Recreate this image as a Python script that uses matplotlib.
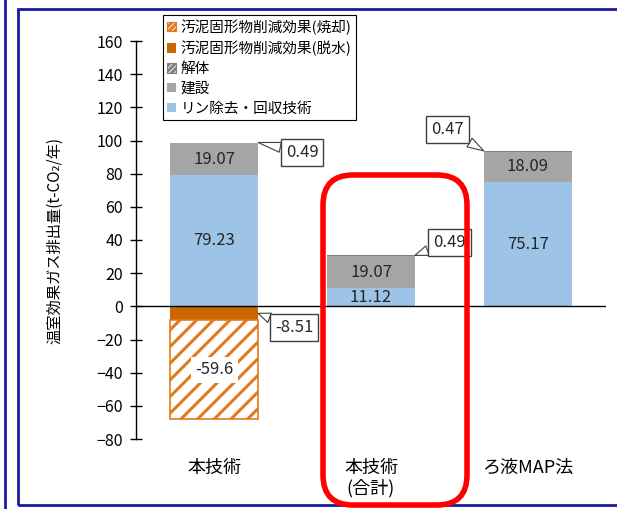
import matplotlib
matplotlib.use("Agg")
import matplotlib.pyplot as plt
import numpy as np
from matplotlib.patches import Patch, FancyBboxPatch, Rectangle
from matplotlib.lines import Line2D

plt.rcParams['font.family'] = ['Noto Sans CJK JP', 'DejaVu Sans']
plt.rcParams['hatch.linewidth'] = 2.2

# データ
categories = ['本技術', '本技術\n(合計)', 'ろ液MAP法']
rin = [79.23, 11.12, 75.17]        # リン除去・回収技術
kensetsu = [19.07, 19.07, 18.09]   # 建設
kaitai = [0.49, 0.49, 0.47]        # 解体
dassui = [-8.51, 0, 0]             # 汚泥固形物削減効果(脱水)
shokyaku = [-59.6, 0, 0]           # 汚泥固形物削減効果(焼却)

c_blue = '#9DC3E6'
c_gray = '#A5A5A5'
c_dgray = '#7F7F7F'
c_orange = '#CC6600'
c_horange = '#E07A1F'

fig = plt.figure(figsize=(6.17, 5.09), dpi=100)
ax = fig.add_axes([136/617, 70/509, 470/617, 398/509])

x = np.arange(len(categories))
w = 0.56
rin = np.array(rin)
kensetsu = np.array(kensetsu)
kaitai = np.array(kaitai)
dassui = np.array(dassui)
shokyaku = np.array(shokyaku)

ax.bar(x, rin, w, color=c_blue, lw=0)
ax.bar(x, kensetsu, w, bottom=rin, color=c_gray, lw=0)
ax.bar(x, kaitai, w, bottom=rin + kensetsu, color=c_dgray, lw=0)
ax.bar(x[:1], dassui[:1], w, color=c_orange, lw=0)
ax.bar(x[:1], shokyaku[:1], w, bottom=dassui[:1], color='white',
       edgecolor=c_horange, hatch='//', lw=1.2)

ax.axhline(0, color='black', lw=1)

# 値ラベル
lab_kw = dict(ha='center', va='center', fontsize=12, color='#262626')
for i in range(3):
    ax.text(x[i], rin[i] / 2, f'{rin[i]:.2f}', **lab_kw)
    ax.text(x[i], rin[i] + kensetsu[i] / 2, f'{kensetsu[i]:.2f}', **lab_kw)
ax.text(x[0], dassui[0] + shokyaku[0] / 2, f'{shokyaku[0]}',
        bbox=dict(boxstyle='square,pad=0.25', fc='white', ec='none'), **lab_kw)

# 吹き出し
call_kw = dict(ha='center', va='center', fontsize=12, color='#262626',
               bbox=dict(boxstyle='square,pad=0.3', fc='white', ec='#404040', lw=1),
               arrowprops=dict(arrowstyle='wedge,tail_width=0.6,shrink_factor=0.5',
                               fc='white', ec='#404040', lw=0.8,
                               shrinkA=0, shrinkB=0))
top = rin + kensetsu + kaitai
ax.annotate(f'{kaitai[0]:.2f}', xy=(x[0] + w/2, top[0]), xytext=(0.56, 93), **call_kw)
ax.annotate(f'{dassui[0]:.2f}', xy=(x[0] + w/2, dassui[0] / 2), xytext=(0.51, -12.7), **call_kw)
ax.annotate(f'{kaitai[1]:.2f}', xy=(x[1] + w/2, top[1]), xytext=(1.5, 38.6), **call_kw)
ax.annotate(f'{kaitai[2]:.2f}', xy=(x[2] - w/2, top[2]), xytext=(1.49, 106.5), **call_kw)

ax.set_xlim(-0.5, 2.5)
ax.set_ylim(-80, 160)
ax.set_yticks(np.arange(-80, 161, 20))
ax.set_xticks(x)
ax.set_xticklabels(categories, fontsize=13, va='top', linespacing=1.2)
for s in ['top', 'right', 'bottom']:
    ax.spines[s].set_visible(False)
ax.spines['left'].set_linewidth(1)
ax.tick_params(axis='y', direction='inout', length=9, width=1, labelsize=11.5, pad=5)
ax.tick_params(axis='x', length=0, pad=14)
ax.set_ylabel('温室効果ガス排出量(t-CO₂/年)', fontsize=11)
ax.yaxis.set_label_coords(-0.155, 0.5)

# 凡例
handles = [
    Patch(fc='white', ec=c_horange, hatch='//////', lw=0.8),
    Patch(fc=c_orange, lw=0),
    Patch(fc='white', ec=c_dgray, hatch='//////', lw=0.8),
    Patch(fc=c_gray, lw=0),
    Patch(fc=c_blue, lw=0),
]
labels = ['汚泥固形物削減効果(焼却)', '汚泥固形物削減効果(脱水)', '解体', '建設', 'リン除去・回収技術']
leg = fig.legend(handles, labels, loc='upper left', bbox_to_anchor=(163/617, 1 - 15/509),
                 bbox_transform=fig.transFigure, fontsize=10.5, handlelength=0.6,
                 handleheight=0.6, handletextpad=0.3, borderpad=0.3, labelspacing=0.4,
                 fancybox=False, edgecolor='black', framealpha=1, borderaxespad=0)
leg.get_frame().set_linewidth(0.8)

# 赤枠
fig.patches.append(FancyBboxPatch((3.23, 0.04), 1.44, 3.3,
                                  boxstyle='round,pad=0,rounding_size=0.3',
                                  transform=fig.dpi_scale_trans, fill=False,
                                  ec='#FF0000', lw=4, zorder=10))
# 外枠
fig.patches.append(Rectangle((0.18, 0.04), 6.2, 4.96, transform=fig.dpi_scale_trans,
                             fill=False, ec='#1A1AA0', lw=2))
fig.lines.append(Line2D([0.05, 0.05], [0, 5.09], transform=fig.dpi_scale_trans,
                        color='#1A1AA0', lw=2))

fig.savefig('out.png', dpi=100)
